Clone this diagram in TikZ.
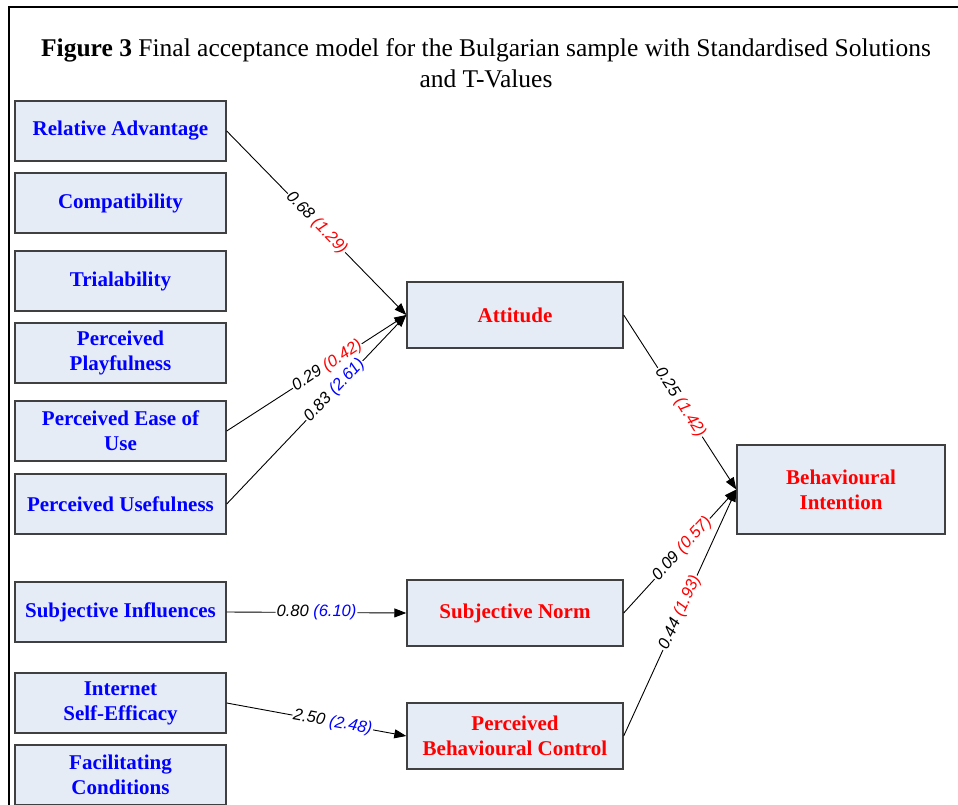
\documentclass[tikz,border=0pt]{standalone}
\usepackage{fontspec}
\setmainfont{Liberation Serif}
\newfontfamily\pathfont{Liberation Sans}
\usetikzlibrary{arrows.meta}
\definecolor{boxfill}{HTML}{E6ECF6}
\definecolor{boxline}{HTML}{404040}
\definecolor{tblue}{HTML}{0000FF}
\definecolor{tred}{HTML}{FF0000}
\tikzset{
  factor/.style={draw=boxline,fill=boxfill,line width=1.4pt,
                 minimum width=211pt,minimum height=60pt,
                 align=center,text=tblue,inner sep=2pt,
                 font=\fontsize{21}{25}\selectfont\bfseries},
  construct/.style={factor,minimum width=216pt,minimum height=66pt,text=tred},
  patharr/.style={-{Triangle[length=12pt,width=9pt]},line width=0.9pt},
  coef/.style={sloped,fill=white,inner sep=1pt,
               font=\pathfont\itshape\fontsize{16.5}{18}\selectfont}
}

\begin{document}
\begin{tikzpicture}[x=1pt,y=-1pt]
  \useasboundingbox (0,0) rectangle (958,805);
  \draw[line width=2pt] (9,812) -- (9,7) -- (962,7);

  \node[align=center,font=\fontsize{25.5}{31}\selectfont] (title) at (486,63.5)
    {\textbf{Figure 3} Final acceptance model for the Bulgarian sample with Standardised Solutions\\and T-Values};

  % antecedents
  \node[factor] (ra)    at (120.5,131) {Relative Advantage};
  \node[factor] (comp)  at (120.5,203) {Compatibility};
  \node[factor] (trial) at (120.5,281) {Trialability};
  \node[factor] (pp)    at (120.5,353) {Perceived\\Playfulness};
  \node[factor] (peou)  at (120.5,431) {Perceived Ease of\\Use};
  \node[factor] (pu)    at (120.5,504) {Perceived Usefulness};
  \node[factor] (si)    at (120.5,612) {Subjective Influences};
  \node[factor] (ise)   at (120.5,703) {Internet\\Self-Efficacy};
  \node[factor] (fc)    at (120.5,775) {Facilitating\\Conditions};

  % model constructs
  \node[construct] (att) at (515,315) {Attitude};
  \node[construct] (sn)  at (515,613) {Subjective Norm};
  \node[construct] (pbc) at (515,736) {Perceived\\Behavioural Control};
  \node[construct,minimum width=208pt,minimum height=89pt] (bi) at (841,489.5) {Behavioural\\Intention};

  \draw[patharr] (ra.east) -- node[coef,pos=0.5] {0.68 \textcolor{tred}{(1.29)}} (att.west);
  \draw[patharr] (peou.east) -- node[coef,pos=0.56] {0.29 \textcolor{tred}{(0.42)}} (att.west);
  \draw[patharr] (pu.east) -- node[coef,pos=0.6] {0.83 \textcolor{tblue}{(2.61)}} (att.west);
  \draw[patharr] (si.east) -- node[coef,pos=0.5] {0.80 \textcolor{tblue}{(6.10)}} (sn.west);
  \draw[patharr] (ise.east) -- node[coef,pos=0.59] {2.50 \textcolor{tblue}{(2.48)}} (pbc.west);

  \draw[patharr] (att.east) -- node[coef,pos=0.5] {0.25 \textcolor{tred}{(1.42)}} (bi.west);
  \draw[patharr] (sn.east) -- node[coef,pos=0.52] {0.09 \textcolor{tred}{(0.57)}} (bi.west);
  \draw[patharr] (pbc.east) -- node[coef,pos=0.5] {0.44 \textcolor{tred}{(1.93)}} (bi.west);
\end{tikzpicture}
\end{document}
